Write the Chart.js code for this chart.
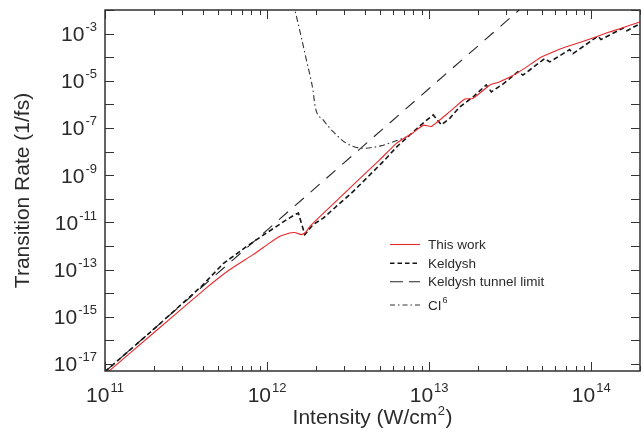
<!DOCTYPE html>
<html>
<head>
<meta charset="utf-8">
<script src="https://cdn.jsdelivr.net/npm/chart.js@4.4.1/dist/chart.umd.min.js"></script>
<style>
html,body{margin:0;padding:0;background:#fff;}
#wrap{width:644px;height:434px;}
</style>
</head>
<body>
<div id="wrap"><canvas id="c" width="644" height="434"></canvas></div>
<script>
// ---- data (intensity in W/cm^2, rate in 1/fs) ----
const seriesNames = ['This work', 'Keldysh', 'Keldysh tunnel limit', 'CI'];

const thisWorkI = [1.0e11, 2.0e11, 4.24e11, 5.9e11, 8.2e11, 1.04e12, 1.2e12, 1.38e12, 1.48e12, 1.56e12, 1.63e12, 1.73e12, 1.84e12, 2.07e12, 3.24e12, 4.95e12, 6.31e12, 7.96e12, 9.23e12, 1.03e13, 1.34e13, 1.66e13, 1.86e13, 2.37e13, 2.66e13, 3.24e13, 3.98e13, 4.81e13, 5.81e13, 7.01e13, 9.33e13, 1.24e14, 1.5e14, 2.0e14];
const thisWorkR = [3.55e-18, 2.09e-16, 1.7e-14, 1.0e-13, 4.27e-13, 1.35e-12, 2.57e-12, 3.55e-12, 3.72e-12, 3.31e-12, 3.02e-12, 3.8e-12, 6.76e-12, 1.51e-11, 2.82e-10, 4.47e-9, 2.29e-8, 6.31e-8, 1.32e-7, 1.15e-7, 4.9e-7, 1.7e-6, 1.78e-6, 6.61e-6, 8.51e-6, 1.58e-5, 3.8e-5, 9.33e-5, 1.66e-4, 2.75e-4, 5.25e-4, 1.05e-3, 1.62e-3, 3.09e-3];

const keldyshI = [1.0e11, 2.0e11, 3.94e11, 5.36e11, 7.48e11, 9.93e11, 1.32e12, 1.48e12, 1.56e12, 1.71e12, 1.92e12, 2.22e12, 3.39e12, 5.25e12, 6.31e12, 7.94e12, 9.4e12, 1.06e13, 1.19e13, 1.34e13, 1.55e13, 1.87e13, 2.25e13, 2.42e13, 2.88e13, 3.53e13, 3.79e13, 5.16e13, 5.55e13, 7.36e13, 7.71e13, 1.1e14, 1.15e14, 1.58e14, 1.66e14, 2.0e14];
const keldyshR = [4.68e-18, 2.95e-16, 1.95e-14, 1.78e-13, 9.55e-13, 3.55e-12, 1.29e-11, 2.09e-11, 2.45e-11, 3.02e-12, 7.94e-12, 1.51e-11, 2.0e-10, 3.98e-9, 1.58e-8, 6.61e-8, 1.86e-7, 3.55e-7, 1.35e-7, 2.57e-7, 7.94e-7, 2.09e-6, 6.61e-6, 3.39e-6, 7.59e-6, 2.4e-5, 1.74e-5, 8.71e-5, 6.31e-5, 2.09e-4, 1.41e-4, 7.76e-4, 5.62e-4, 1.74e-3, 1.32e-3, 2.63e-3];

const tunnelI = [1.0e11, 1.0e12, 1.0e13, 4.0e13];
const tunnelR = [4.7e-18, 4.7e-12, 4.7e-6, 1.9e-2];

const ci6I = [1.45e12, 1.59e12, 1.75e12, 1.92e12, 1.98e12, 2.22e12, 2.56e12, 3.09e12, 3.91e12, 5.01e12, 6.03e12, 7.24e12];
const ci6R = [2.0e-2, 1.38e-3, 7.41e-5, 3.98e-6, 7.94e-7, 2.19e-7, 6.92e-8, 2.24e-8, 1.38e-8, 1.74e-8, 2.63e-8, 4.17e-8];

const xRange = [1e11, 2e14];
const yRange = [5e-18, 1e-2];
const xLabelExps = [11, 12, 13, 14];
const yLabelExps = [-17, -15, -13, -11, -9, -7, -5, -3];
const yTickExps = [-17, -16, -15, -14, -13, -12, -11, -10, -9, -8, -7, -6, -5, -4, -3, -2];
const xTitle = ['Intensity (W/cm', '2', ')'];
const yTitle = 'Transition Rate (1/fs)';
const ciSup = '6';

// ---- helpers ----
const FONT = '"Liberation Sans", Arial, sans-serif';
const TXT = '#2b2b2b';
const pts = (xs, ys) => xs.map((x, i) => ({x: x, y: ys[i]}));

function drawPow(ctx, base, exp, x, y, align, bSize, eSize, rise) {
  ctx.font = bSize + 'px ' + FONT;
  const wb = ctx.measureText(base).width;
  ctx.font = eSize + 'px ' + FONT;
  const we = ctx.measureText(exp).width;
  const gap = 1;
  const total = wb + gap + we;
  let x0 = align === 'center' ? x - total / 2 : (align === 'right' ? x - total : x);
  ctx.textAlign = 'left';
  ctx.textBaseline = 'alphabetic';
  ctx.font = bSize + 'px ' + FONT;
  ctx.fillText(base, x0, y);
  ctx.font = eSize + 'px ' + FONT;
  ctx.fillText(exp, x0 + wb + gap, y - rise);
}

const framePlugin = {
  id: 'frame',
  afterDraw(chart) {
    const ctx = chart.ctx;
    const a = chart.chartArea;
    const xs = chart.scales.x, ys = chart.scales.y;
    ctx.save();
    // frame
    ctx.strokeStyle = '#222';
    ctx.lineWidth = 1.4;
    ctx.setLineDash([]);
    ctx.strokeRect(a.left, a.top, a.right - a.left, a.bottom - a.top);
    // x ticks (major + minor), bottom and top
    ctx.lineWidth = 1;
    ctx.strokeStyle = '#333';
    ctx.beginPath();
    for (let e = 11; e <= 14; e++) {
      for (let m = 1; m <= 9; m++) {
        const v = m * Math.pow(10, e);
        if (v < xRange[0] || v > xRange[1]) continue;
        const px = Math.round(xs.getPixelForValue(v)) + 0.5;
        const len = m === 1 ? 9 : 5;
        ctx.moveTo(px, a.bottom); ctx.lineTo(px, a.bottom - len);
        ctx.moveTo(px, a.top); ctx.lineTo(px, a.top + len);
      }
    }
    yTickExps.forEach(e => {
      const py = Math.round(ys.getPixelForValue(Math.pow(10, e))) + 0.5;
      ctx.moveTo(a.left, py); ctx.lineTo(a.left + 9, py);
      ctx.moveTo(a.right, py); ctx.lineTo(a.right - 9, py);
    });
    ctx.stroke();

    // tick labels
    ctx.fillStyle = TXT;
    xLabelExps.forEach(e => {
      const px = xs.getPixelForValue(Math.pow(10, e));
      drawPow(ctx, '10', String(e), px, 401.5, 'center', 21, 13, 10);
    });
    yLabelExps.forEach(e => {
      const py = ys.getPixelForValue(Math.pow(10, e));
      drawPow(ctx, '10', '-' + String(-e), 97, py + 7.5, 'right', 21, 13, 10);
    });

    // axis titles
    ctx.font = '21px ' + FONT;
    const w0 = ctx.measureText(xTitle[0]).width;
    const w2 = ctx.measureText(xTitle[2]).width;
    ctx.font = '13px ' + FONT;
    const w1 = ctx.measureText(xTitle[1]).width;
    const cx = (a.left + a.right) / 2;
    let x0 = cx - (w0 + w1 + 1 + w2) / 2;
    ctx.textAlign = 'left'; ctx.textBaseline = 'alphabetic';
    ctx.font = '21px ' + FONT;
    ctx.fillText(xTitle[0], x0, 424);
    ctx.font = '13px ' + FONT;
    ctx.fillText(xTitle[1], x0 + w0 + 0.5, 415);
    ctx.font = '21px ' + FONT;
    ctx.fillText(xTitle[2], x0 + w0 + w1 + 1, 424);

    ctx.save();
    ctx.translate(28.5, (a.top + a.bottom) / 2);
    ctx.rotate(-Math.PI / 2);
    ctx.textAlign = 'center';
    ctx.font = '21px ' + FONT;
    ctx.fillText(yTitle, 0, 0);
    ctx.restore();

    // legend
    const rows = [244.5, 263.3, 281.7, 305];
    chart.data.datasets.forEach((ds, i) => {
      const y = rows[i];
      ctx.save();
      ctx.strokeStyle = ds.borderColor;
      ctx.lineWidth = ds.borderWidth;
      ctx.setLineDash(ds.legendDash || ds.borderDash || []);
      ctx.beginPath();
      ctx.moveTo(390, y); ctx.lineTo(420, y);
      ctx.stroke();
      ctx.restore();
      ctx.fillStyle = TXT;
      if (i === 3) {
        drawPow(ctx, ds.label, ciSup, 428, y + 4.7, 'left', 13.5, 9, 7);
      } else {
        ctx.font = '13.5px ' + FONT;
        ctx.textAlign = 'left';
        ctx.textBaseline = 'alphabetic';
        ctx.fillText(ds.label, 428, y + 4.7);
      }
    });
    ctx.restore();
  }
};

new Chart(document.getElementById('c'), {
  type: 'line',
  data: {
    datasets: [
      {label: seriesNames[0], data: pts(thisWorkI, thisWorkR), borderColor: '#e8282b', borderWidth: 1.1, pointRadius: 0, tension: 0.15, fill: false},
      {label: seriesNames[1], data: pts(keldyshI, keldyshR), borderColor: '#151515', borderWidth: 1.6, borderDash: [5, 3], legendDash: [4.5, 3], pointRadius: 0, tension: 0, fill: false},
      {label: seriesNames[2], data: pts(tunnelI, tunnelR), borderColor: '#262626', borderWidth: 1.1, borderDash: [12, 9], legendDash: [13, 6], pointRadius: 0, tension: 0, fill: false},
      {label: seriesNames[3], data: pts(ci6I, ci6R), borderColor: '#333', borderWidth: 1.1, borderDash: [6, 3, 1.5, 3], legendDash: [5, 3, 1.5, 3], pointRadius: 0, cubicInterpolationMode: 'monotone', fill: false}
    ]
  },
  options: {
    responsive: false,
    animation: false,
    events: [],
    layout: {padding: {top: 10, right: 4, left: 0, bottom: 0}},
    plugins: {legend: {display: false}, tooltip: {enabled: false}},
    scales: {
      x: {
        type: 'logarithmic', min: xRange[0], max: xRange[1], bounds: 'data',
        ticks: {display: false}, grid: {display: false}, border: {display: false},
        afterFit(s) { s.height = 63; }
      },
      y: {
        type: 'logarithmic', min: yRange[0], max: yRange[1], bounds: 'data',
        ticks: {display: false}, grid: {display: false}, border: {display: false},
        afterFit(s) { s.width = 105; }
      }
    }
  },
  plugins: [framePlugin]
});
</script>
</body>
</html>
